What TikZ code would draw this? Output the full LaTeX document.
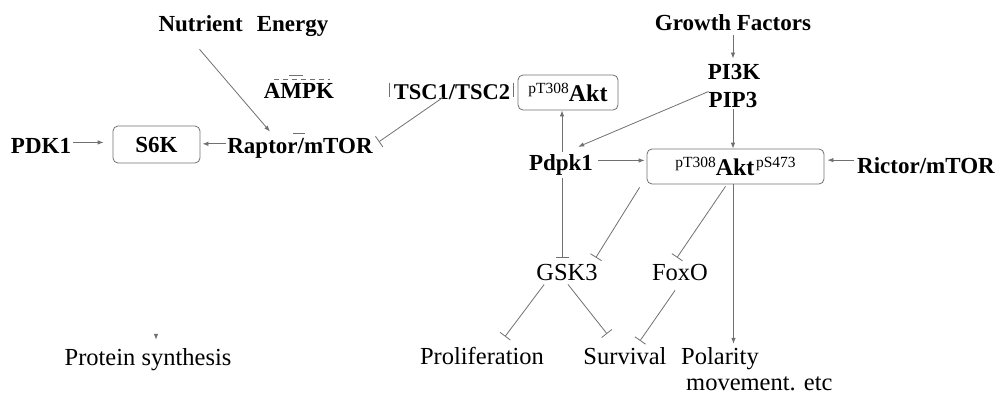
\documentclass[tikz,border=0pt]{standalone}
\usepackage{fontspec}
\setmainfont{Liberation Serif}
\usetikzlibrary{arrows.meta,calc}
\definecolor{ln}{HTML}{707070}
\tikzset{
  lbl/.style={inner sep=0pt, anchor=base, font=\fontsize{23}{26}\selectfont\bfseries},
  plain/.style={inner sep=0pt, anchor=base, font=\fontsize{24.5}{28}\selectfont},
  box/.style={draw=ln, line width=0.8pt, rounded corners=5pt, inner sep=0pt},
  act/.style={draw=ln, line width=0.8pt, -{Latex[length=6pt,width=4.5pt]}},
  inh/.style={draw=ln, line width=0.8pt, -{Bar[width=13pt,line width=0.8pt]}},
  tick/.style={draw=ln, line width=0.8pt},
}
\newcommand{\psup}[1]{{\fontsize{15.5}{16}\selectfont\mdseries\raisebox{8pt}{#1}}}
\newcommand{\akt}{{\fontsize{24}{26}\selectfont\bfseries Akt}}
\begin{document}
\begin{tikzpicture}[x=1pt,y=-1pt]
\useasboundingbox (0,0) rectangle (999,394);
% left side
\node[lbl] (nutr) at (243.5,31) {Nutrient\hspace{14pt}Energy};
\node[lbl] (ampk) at (299,98) {AMPK};
\node[lbl,font=\fontsize{22.5}{26}\selectfont\bfseries] (tsc) at (452,99) {TSC1/TSC2};
\node[box,minimum width=100pt,minimum height=35pt] (aktA) at (568,92.5) {\psup{pT308}\akt};
\node[lbl] (pdk1) at (41,153) {PDK1};
\node[box,minimum width=87pt,minimum height=37pt] (s6k) at (156.5,144.5) {\fontsize{23}{26}\selectfont\bfseries S6K};
\node[lbl] (raptor) at (300,153) {Raptor/mTOR};
\node[plain] (protein) at (148,365) {Protein synthesis};
% right side
\node[lbl] (gf) at (733,30) {Growth Factors};
\node[lbl] (pi3k) at (734,79) {PI3K};
\node[lbl] (pip3) at (733,107) {PIP3};
\node[lbl] (pdpk) at (561,170) {Pdpk1};
\node[box,minimum width=177pt,minimum height=35pt] (aktB) at (735.5,166.5) {\psup{pT308}\akt\,\psup{pS473}};
\node[lbl] (rictor) at (926,173) {Rictor/mTOR};
\node[plain] (gsk) at (567,280) {GSK3};
\node[plain] (foxo) at (680,280) {FoxO};
\node[plain] (prolif) at (482,364) {Proliferation};
\node[plain] (surv) at (625,364) {Survival};
\node[plain] (polar) at (720,364) {Polarity};
\node[plain,anchor=base west] (move) at (686,390) {movement. etc};
% helper coordinates
\coordinate (pdN) at ($(pdpk.north)+(1,-2)$);
\coordinate (pdS) at ($(pdpk.south)+(1,3)$);
\coordinate (pdE) at ($(pdpk.east)+(5,-4)$);
\coordinate (pk1E) at ($(pdk1.east)+(2,-3)$);
\coordinate (raW) at ($(raptor.west)+(-1,-4)$);
\coordinate (riW) at ($(rictor.west)+(-3,-5)$);
\coordinate (gskT) at ($(gsk.north)+(0,-6)$);
\coordinate (akS) at ($(aktB.south)+(-2,0)$);
\coordinate (polT) at ($(polar.north)+(0,-3)$);
% small marks
\draw[tick,dash pattern=on 5pt off 4pt] ($(ampk.north west)+(10,-3)$) -- ($(ampk.north east)+(-4,-3)$);
\draw[tick] ($(ampk.north)+(-10,-7)$) -- ($(ampk.north)+(4,-7)$);
\draw[tick] ($(raptor.north)+(-7,-4)$) -- ($(raptor.north)+(5,-4)$);
\draw[tick] ($(tsc.west)+(-4,-9)$) -- ($(tsc.west)+(-4,5)$);
\draw[tick] ($(tsc.east)+(3,-9)$) -- ($(tsc.east)+(3,5)$);
% connectors left
\draw[act] ($(nutr.south)+(-44,13)$) -- ($(raptor.north)+(-30,-6)$);
\draw[act] (pk1E) -- ($(s6k.west |- pk1E)+(-9,0)$);
\draw[act] (raW) -- ($(s6k.east |- raW)+(2,0)$);
\draw[inh] ($(tsc.south)+(-9,-2)$) -- ($(raptor.east)+(6,-6)$);
\draw[act] ($(protein.north)+(8,-13)$) -- ($(protein.north)+(8,-8)$);
% connectors right
\draw[act] ($(gf.south)+(0,5)$) -- ($(pi3k.north)+(-1,-5)$);
\draw[act] ($(pip3.south)+(0,2)$) -- (aktB.north -| pip3.south);
\draw[act] ($(pip3.west)+(0,-8)$) -- ($(pdpk.north east)+(-15,-7)$);
\draw[act] (pdN) -- (pdN |- aktA.south);
\draw[act] (pdE) -- ($(aktB.west |- pdE)+(-2,0)$);
\draw[act] (riW) -- ($(aktB.east |- riW)+(3,0)$);
\draw[inh] (pdS) -- (pdS |- gskT);
\draw[inh] ($(aktB.south west)+(-7,3)$) -- ($(gsk.north east)+(-2,-6)$);
\draw[inh] ($(aktB.south)+(-10,2)$) -- ($(foxo.north)+(-3,-6)$);
\draw[act] (akS) -- (akS |- polT);
\draw[inh] ($(gsk.south west)+(8,4)$) -- ($(prolif.north)+(23,-10)$);
\draw[inh] ($(gsk.south)+(1,4)$) -- ($(surv.north)+(-18,-13)$);
\draw[inh] ($(foxo.south)+(-5,10)$) -- ($(surv.north)+(15,-6)$);
\end{tikzpicture}
\end{document}
